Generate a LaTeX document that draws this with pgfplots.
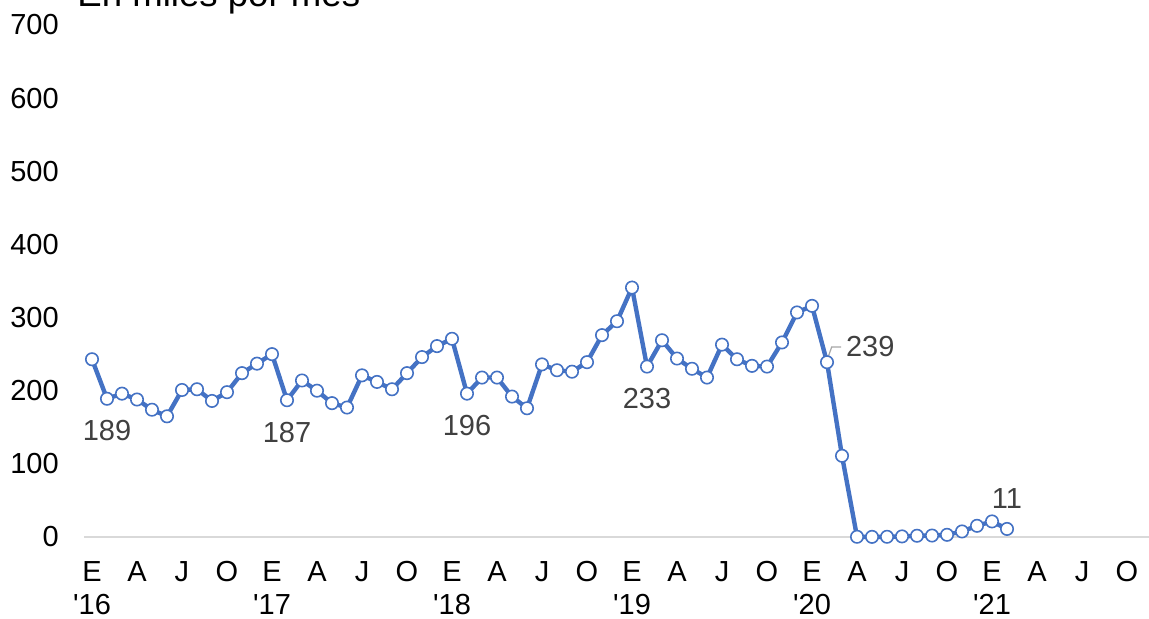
\documentclass[border=0pt]{standalone}
\usepackage{fontspec}
\setmainfont{Liberation Sans}
\usepackage{pgfplots}
\usepackage{pgfplotstable}
\pgfplotsset{compat=1.18}
\definecolor{lineblue}{HTML}{4472C4}
\definecolor{labgray}{HTML}{404040}
\definecolor{axgray}{HTML}{D9D9D9}
\definecolor{leadgray}{HTML}{A6A6A6}
\pgfplotstableread{
x y
0 243
1 189
2 196
3 188
4 174
5 165
6 201
7 202
8 186
9 198
10 224
11 237
12 250
13 187
14 214
15 200
16 183
17 177
18 221
19 212
20 202
21 224
22 246
23 261
24 271
25 196
26 218
27 218
28 192
29 176
30 236
31 228
32 226
33 239
34 276
35 295
36 341
37 233
38 269
39 244
40 230
41 218
42 263
43 243
44 234
45 233
46 266
47 307
48 316
49 239
50 111
51 0.3
52 0.2
53 0.3
54 0.8
55 1.7
56 2
57 3
58 7.6
59 15.3
60 21.3
61 11
}\datatable
\begin{document}
\begin{tikzpicture}
\begin{axis}[
  at={(0,0)}, anchor=south west,
  scale only axis, width=532.5pt, height=256pt,
  xmin=-0.5, xmax=70.5, ymin=0, ymax=700,
  clip=false,
  axis x line=bottom, axis y line=left,
  x axis line style={-, draw=axgray, line width=0.75pt},
  y axis line style={draw=none},
  major tick length=0pt,
  xtick={0,3,...,69},
  xticklabels={{E\\\textquotesingle16},A,J,O,{E\\\textquotesingle17},A,J,O,{E\\\textquotesingle18},A,J,O,{E\\\textquotesingle19},A,J,O,{E\\\textquotesingle20},A,J,O,{E\\\textquotesingle21},A,J,O},
  xticklabel style={align=center, inner sep=0pt, anchor=north, yshift=-12pt, font=\fontsize{14.5}{16.5}\selectfont},
  ytick={0,100,...,700},
  yticklabel style={inner sep=0pt, anchor=east, xshift=-12.7pt, font=\fontsize{14.5}{16.5}\selectfont},
  /pgf/number format/assume math mode=true,
]
\addplot[color=lineblue, line width=2.2pt, mark=*, mark size=3.1pt,
  mark options={fill=white, draw=lineblue, line width=0.8pt}] table[x=x,y=y] {\datatable};
\begin{scope}[every node/.style={inner sep=0pt, text=labgray, font=\fontsize{14.5}{16.5}\selectfont}]
\node at ([yshift=-15.7pt]axis cs:1,189) {189};
\node at ([yshift=-16pt]axis cs:13,187) {187};
\node at ([yshift=-16pt]axis cs:25,196) {196};
\node at ([yshift=-16pt]axis cs:37,233) {233};
\node at ([xshift=21.6pt,yshift=7.85pt]axis cs:49,239) {239};
\node at ([yshift=15.25pt]axis cs:61,11) {11};
\end{scope}
\draw[leadgray, line width=0.6pt] ([yshift=1pt]axis cs:49,239) -- ([xshift=2.35pt,yshift=7.6pt]axis cs:49,239) -- ([xshift=7pt,yshift=7.6pt]axis cs:49,239);
\end{axis}
\node[anchor=base west, inner sep=0pt, font=\fontsize{18.3}{22}\selectfont] at (-3.75pt,265.25pt) {En miles por mes};
\pgfresetboundingbox
\useasboundingbox (-42.25pt,-41pt) rectangle (532.25pt,268.5pt);
\end{tikzpicture}
\end{document}
